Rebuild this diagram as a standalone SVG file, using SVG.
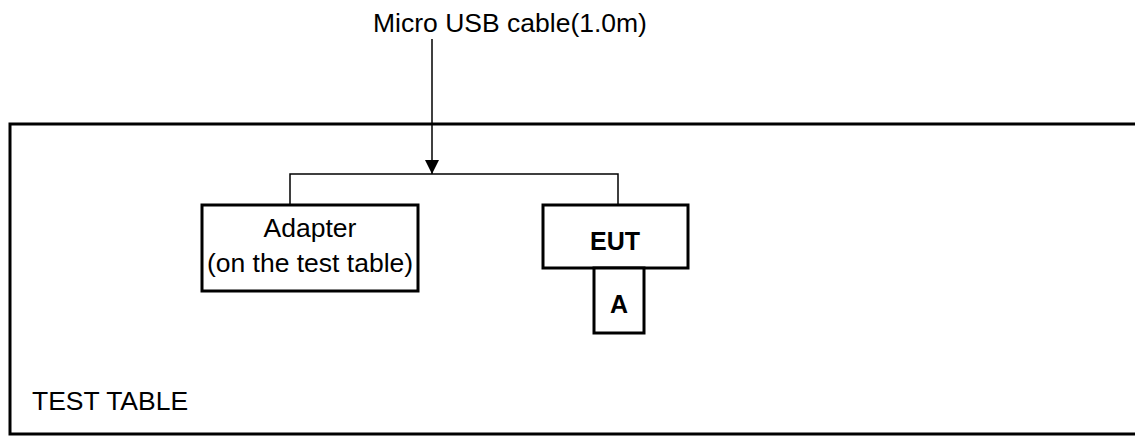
<svg xmlns="http://www.w3.org/2000/svg" width="1135" height="436" viewBox="0 0 1135 436">
<style>
text{font-family:"Liberation Sans",Arial,sans-serif;font-size:26.5px;fill:#000}
.b{font-weight:bold;font-size:25px}
.box{fill:#fff;stroke:#000;stroke-width:3}
.wire{fill:none;stroke:#000;stroke-width:1.5}
</style>
<defs>
<marker id="arr" markerWidth="14" markerHeight="14" refX="14" refY="7" orient="auto" markerUnits="userSpaceOnUse">
<path d="M0,0 L14,7 L0,14 Z" fill="#000"/>
</marker>
</defs>
<g id="table">
<path d="M1136,124 H10 V434 H1136" fill="none" stroke="#000" stroke-width="3"/>
<text x="32" y="410">TEST TABLE</text>
</g>
<g id="connectors">
<line class="wire" x1="432" y1="39" x2="432" y2="174" marker-end="url(#arr)"/>
<path class="wire" d="M290,204 V174 H618 V204"/>
</g>
<g id="cable-label">
<text x="510" y="32" text-anchor="middle">Micro USB cable(1.0m)</text>
</g>
<g id="adapter">
<rect class="box" x="202" y="205" width="216" height="86"/>
<text x="310" y="237" text-anchor="middle">Adapter</text>
<text x="310" y="272" text-anchor="middle">(on the test table)</text>
</g>
<g id="eut">
<rect class="box" x="543" y="205" width="145" height="63"/>
<text class="b" x="615" y="250" text-anchor="middle">EUT</text>
</g>
<g id="a">
<rect class="box" x="594" y="268" width="50" height="65"/>
<text class="b" x="619" y="313" text-anchor="middle">A</text>
</g>
</svg>
